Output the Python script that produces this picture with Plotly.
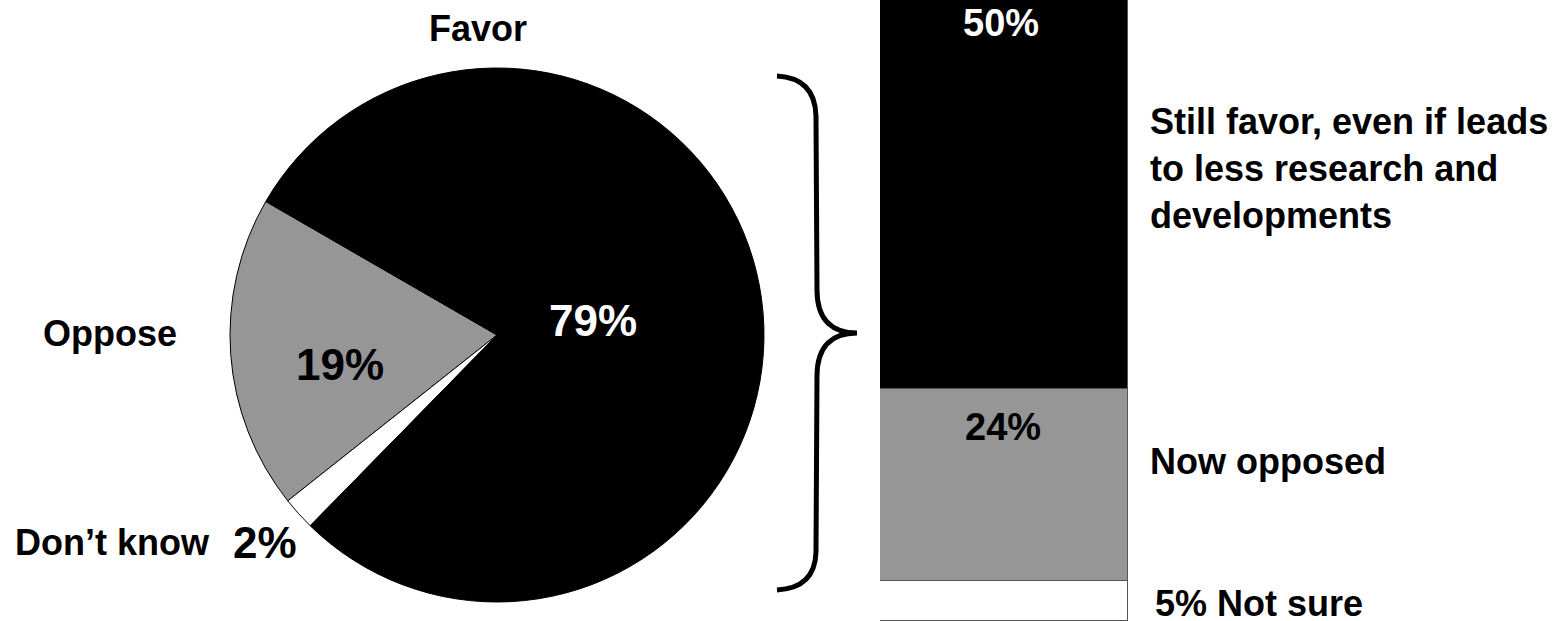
import plotly.graph_objects as go

# Overall opinion (pie)
pie_labels = ["Oppose", "Don\u2019t know", "Favor"]
pie_values = [19, 2, 79]
pie_colors = ["#969696", "#ffffff", "#000000"]

# Follow-up among those in favor (stacked bar, bottom to top)
bar_labels = ["Not sure", "Now opposed", "Still favor, even if leads<br>to less research and<br>developments"]
bar_values = [5, 24, 50]
bar_colors = ["#ffffff", "#969696", "#000000"]

W, H = 1566, 621
FONT = "Liberation Sans, Arial, sans-serif"


def px(x, y):
    """Pixel position -> paper coordinates."""
    return x / W, 1 - y / H


fig = go.Figure()

# Pie: centre (497, 335), radius 267 px; "Oppose" wedge begins at ten o'clock
cx, cy, r = 497, 335, 267
fig.add_trace(go.Pie(
    labels=pie_labels,
    values=pie_values,
    marker=dict(colors=pie_colors, line=dict(color="#000000", width=1)),
    sort=False,
    direction="counterclockwise",
    rotation=-128.4,
    textinfo="none",
    hoverinfo="label+percent",
    showlegend=False,
    domain=dict(x=[(cx - r) / W, (cx + r) / W], y=[1 - (cy + r) / H, 1 - (cy - r) / H]),
))

# Stacked bar
for lab, val, col in zip(bar_labels, bar_values, bar_colors):
    fig.add_trace(go.Bar(
        x=[0], y=[val], width=[1],
        marker=dict(color=col, line=dict(color="#555555", width=1)),
        name=lab.replace("<br>", " "),
        showlegend=False,
        hoverinfo="name+y",
    ))

fig.update_layout(
    width=W, height=H,
    margin=dict(l=0, r=0, t=0, b=0),
    paper_bgcolor="white",
    plot_bgcolor="rgba(0,0,0,0)",
    barmode="stack",
    bargap=0,
    xaxis=dict(domain=[880 / W, 1128 / W], range=[-0.5, 0.5], visible=False, fixedrange=True),
    yaxis=dict(domain=[0, 1], range=[0, H / 8], visible=False, fixedrange=True),
    font=dict(family=FONT, color="black"),
)

ann = []


def label(text, x, y, size, color="black", xanchor="center", yanchor="middle", align="center"):
    xp, yp = px(x, y)
    ann.append(dict(text=f"<b>{text}</b>", x=xp, y=yp, xref="paper", yref="paper",
                    xanchor=xanchor, yanchor=yanchor, align=align, showarrow=False,
                    font=dict(family=FONT, size=size, color=color)))


# Pie labels
label(pie_labels[2], 478, 29, 36)
label(pie_labels[0], 179, 333, 36, xanchor="right")
label(f"{pie_values[0]}%", 340, 365, 44)
label(f"{pie_values[2]}%", 593, 320, 44, color="white")
label(pie_labels[1], 13, 542, 36, xanchor="left")
label(f"{pie_values[1]}%", 265, 542, 44)

# Bar labels
label(f"{bar_values[2]}%", 1001, 23, 38, color="white")
label(f"{bar_values[1]}%", 1003, 427, 38)
label(bar_labels[2], 1148, 168, 36, xanchor="left", align="left")
label(bar_labels[1], 1148, 461, 36, xanchor="left")
label(f"{bar_values[0]}% {bar_labels[0]}", 1153, 603, 36, xanchor="left")

fig.update_layout(annotations=ann)

# Curly brace linking "Favor" to the bar
pts = [
    ("M", [(777, 76)]),
    ("Q", [(815, 78), (816, 116)]),
    ("L", [(817, 290)]),
    ("C", [(817, 322), (834, 333), (857, 333)]),
    ("C", [(834, 333), (817, 344), (817, 376)]),
    ("L", [(816, 552)]),
    ("Q", [(815, 588), (777, 590)]),
]
path = ""
for cmd, coords in pts:
    path += cmd + " " + " ".join(f"{px(x, y)[0]:.5f},{px(x, y)[1]:.5f}" for x, y in coords) + " "
fig.add_shape(type="path", path=path.strip(), xref="paper", yref="paper",
              line=dict(color="black", width=5))

fig.write_html("out.html")
